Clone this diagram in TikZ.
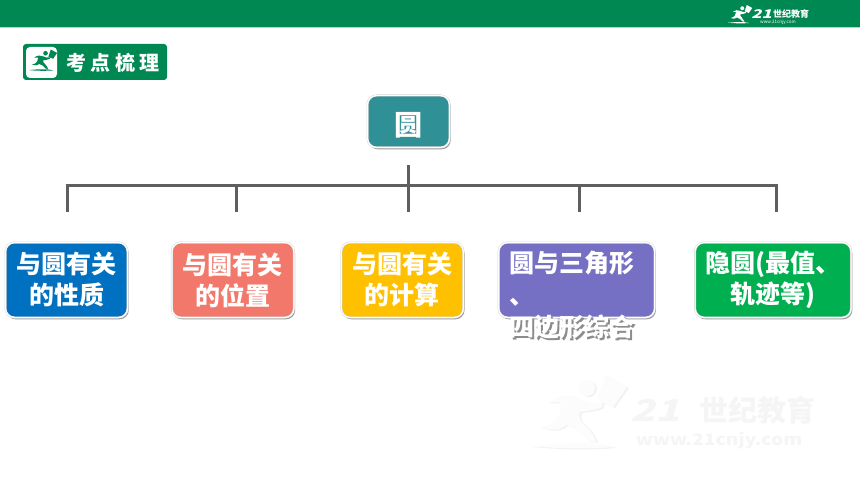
\documentclass[tikz,border=0pt]{standalone}
\usepackage{fontspec}
\usetikzlibrary{shadows, positioning}
\setmainfont{Noto Sans CJK SC}
\newfontfamily\tagfont[LetterSpace=22]{Noto Sans CJK SC}
\definecolor{headgreen}{HTML}{008853}
\definecolor{headline}{HTML}{A9DCC8}
\definecolor{rootteal}{HTML}{2F9096}
\definecolor{topicblue}{HTML}{0070C0}
\definecolor{topicsalmon}{HTML}{F1786A}
\definecolor{topicyellow}{HTML}{FFC000}
\definecolor{topicpurple}{HTML}{7570C4}
\definecolor{topicgreen}{HTML}{00B050}
\definecolor{treegray}{HTML}{5F5F5F}
\definecolor{markshade}{HTML}{F2F2F2}
\definecolor{marklight}{HTML}{FCFCFC}
\definecolor{marktext}{HTML}{F5F5F5}
\newcommand{\bigfont}{\fontsize{25}{31}\selectfont\bfseries}

\tikzset{
    runner/.pic={
        \fill (57,13) circle (8);
        \fill (75,0) -- (97,12) -- (83,32) -- (67,25) -- cycle;
        \fill (18,28) .. controls (28,20) and (40,18) .. (50,24) .. controls (56,28) and (64,29) .. (72,27) -- (72,32)
            .. controls (64,36) and (56,36) .. (50,37) .. controls (48,42) and (50,46) .. (55,50)
            .. controls (60,55) and (64,60) .. (66,67) -- (58,66) .. controls (52,58) and (44,52) .. (36,50)
            .. controls (30,56) and (20,56) .. (10,52) .. controls (18,50) and (24,48) .. (28,42)
            .. controls (30,38) and (30,34) .. (32,28) .. controls (28,27) and (24,27) .. (18,28) -- cycle;
        \fill (0,71) .. controls (30,68) and (60,66) .. (85,72) .. controls (60,74) and (30,74) .. (0,71) -- cycle;
    }
}

\begin{document}
\begin{tikzpicture}[
    x=1pt, y=-1pt,
    node distance=44pt,
    topic/.style={rectangle, draw=black!18, double=white, double distance=1.2pt, rounded corners=9pt,
        minimum height=75pt, inner sep=0pt, align=center, text=white, font=\bigfont,
        drop shadow={shadow xshift=1.2pt, shadow yshift=-1.8pt, fill=black, opacity=0.4}},
    tree/.style={draw=treegray, line width=3pt},
    brand/.style={inner sep=0pt, font=\fontsize{#1}{#1}\selectfont\bfseries}
]
    \useasboundingbox (0,0) rectangle (860,484);

    % Header
    \fill[headgreen] (0,0) rectangle (860,27);
    \fill[headline] (0,27) rectangle (860,28.5);
    \pic[color=white, scale=0.25] at (728,5) {runner};
    \node[brand=12, text=white, xslant=0.3, xscale=1.4, transform shape] (headnum) at (763,14.5) {21};
    \node[brand=9, text=white] (headname) at (791,14.5) {世纪教育};
    \node[inner sep=0pt, font=\fontsize{4.5}{5}\selectfont, text=white] (headurl) at (778,22.5) {www.21cnjy.com};

    % Tag
    \node[rectangle, fill=headgreen, rounded corners=3pt, minimum width=144pt, minimum height=36pt, inner sep=0pt] (tag) at (95,62) {};
    \node[rectangle, fill=white, rounded corners=4pt, minimum width=31pt, minimum height=31pt, inner sep=0pt] (tagicon) at (41.5,62.5) {};
    \pic[color=headgreen, scale=0.29] at (29,49.5) {runner};
    \node[font=\tagfont\fontsize{20}{20}\selectfont\bfseries, text=white, inner sep=0pt] (tagtext) at (113,63) {考点梳理};

    % Watermark
    \pic[color=markshade] at (532,376) {runner};
    \pic[color=marklight] at (530,375) {runner};
    \node[brand=30, text=marktext, xslant=0.3, xscale=1.35, transform shape] (marknum) at (658.5,410) {21};
    \node[brand=29, text=marktext] (markname) at (757,410) {世纪教育};
    \node[brand=16, text=marktext, xscale=1.2, transform shape] (markurl) at (719,441) {www.21cnjy.com};

    % Root
    \node[topic, fill=rootteal, minimum width=82pt, minimum height=52pt, font=\fontsize{28}{28}\selectfont\bfseries, text height=34pt, text depth=5pt] (root) at (408.5,121.5) {圆};

    % Topics
    \node[topic, fill=topicblue, minimum width=122pt] (props) at (66.5,280) {与圆有关\\的性质};
    \node[topic, fill=topicsalmon, minimum width=122pt, right=44pt of props] (place) {与圆有关\\的位置};
    \node[topic, fill=topicyellow, minimum width=122pt, right=47pt of place] (calc) {与圆有关\\的计算};
    \node[topic, fill=topicpurple, minimum width=156pt, right=35pt of calc] (mixed) {};
    \node[topic, fill=topicgreen, minimum width=156pt, right=40pt of mixed] (hidden) {隐圆(最值、\\轨迹等)};

    % Overflowing label
    \node[font=\bigfont, text=black!45, align=left, inner sep=0pt, anchor=north west] (mixedshade) at ([xshift=-65.5pt, yshift=27.5pt]mixed.center) {\phantom{圆与三角形}\\[1pt]\phantom{、}\\[1pt]四边形综合};
    \node[font=\bigfont, text=white, align=left, inner sep=0pt, anchor=north west] (mixedtext) at ([xshift=-67pt, yshift=29pt]mixed.center) {圆与三角形\\[1pt]、\\[1pt]四边形综合};

    % Tree
    \coordinate (trunktop) at (408,165);
    \coordinate (trunkbase) at (408,186);
    \draw[tree] (trunktop) -- (trunkbase);
    \coordinate (barleft) at (65.5,186);
    \coordinate (barright) at (777.5,186);
    \draw[tree] (barleft) -- (barright);
    \foreach \dropname/\dropx in {propsdrop/67, placedrop/236, calcdrop/408, mixeddrop/579, hiddendrop/776} {
        \coordinate (\dropname top) at (\dropx,185);
        \coordinate (\dropname) at (\dropx,212);
        \draw[tree] (\dropname top) -- (\dropname);
    }
\end{tikzpicture}
\end{document}
